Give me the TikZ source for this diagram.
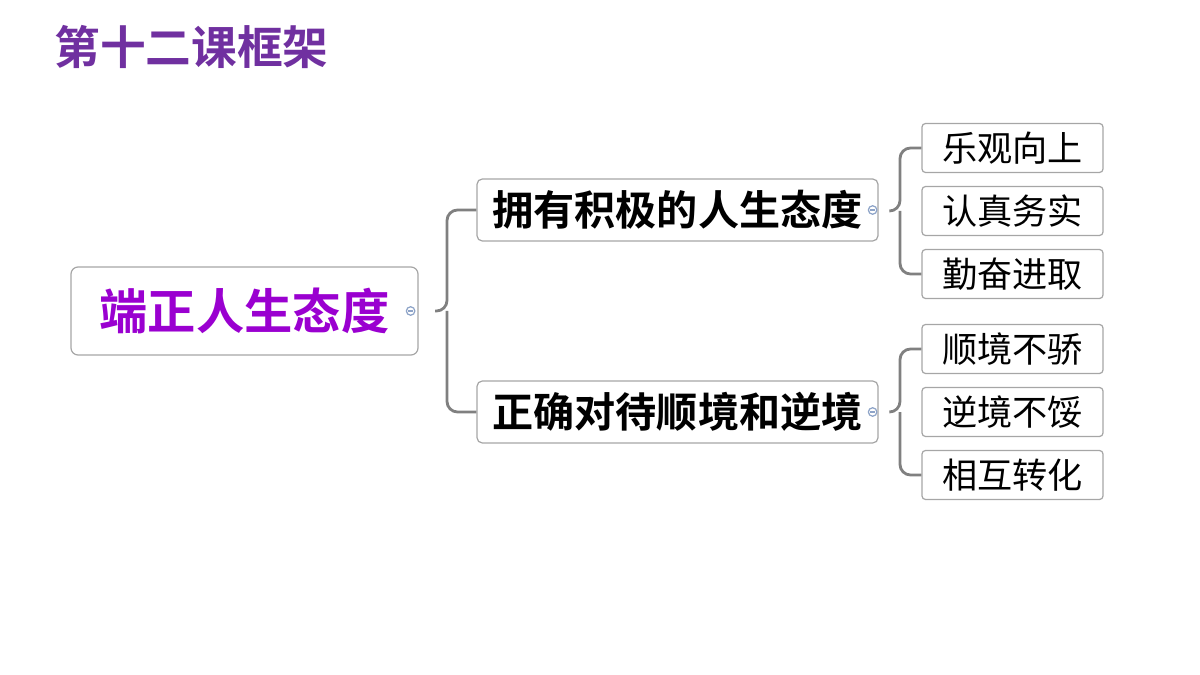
\documentclass[tikz,border=0pt]{standalone}
\usepackage{fontspec}
\setmainfont{Noto Sans CJK SC}
\newfontfamily\cjkbold{Noto Sans CJK SC Bold}
\usetikzlibrary{positioning}
\definecolor{titlepurple}{HTML}{7030A0}
\definecolor{rootpurple}{HTML}{9A00D0}
\definecolor{boxgray}{HTML}{A6A6A6}
\definecolor{knobblue}{HTML}{8EA4C8}
\begin{document}
\begin{tikzpicture}
	[x=0.02cm,y=-0.02cm,line width=0.7pt,
	rootbox/.style = {
		draw=boxgray, rounded corners=4pt, minimum width=347*0.02cm,
		minimum height=88*0.02cm, font=\cjkbold\fontsize{27.5}{28}\selectfont,
		text=rootpurple
	},
	midbox/.style = {
		draw=boxgray, rounded corners=3pt, minimum width=401*0.02cm,
		minimum height=62*0.02cm, font=\cjkbold\fontsize{23.4}{24}\selectfont
	},
	leafbox/.style = {
		draw=boxgray, rounded corners=2pt, minimum width=181*0.02cm,
		minimum height=49*0.02cm, font=\fontsize{20}{20}\selectfont
	},
	brace/.style = {
		draw=gray, line width=1.6pt, rounded corners=6pt
	},
	knob/.style = {
		draw=knobblue, fill=white, circle, inner sep=0pt, minimum size=0.17cm
	}]
	\useasboundingbox (0,0) rectangle (1200,675);

	%Title
	\node[anchor=west, text=titlepurple, font=\cjkbold\fontsize{26}{26}\selectfont]
		at (48,47) (title) {第十二课框架};

	%Draw nodes
	\node[rootbox] at (244.5,311) (root) {端正人生态度};
	\node[midbox] at (677.5,210) (pos) {拥有积极的人生态度};
	\node[midbox] at (677.5,412) (adv) {正确对待顺境和逆境};
	\node[leafbox] at (1012.5,148) (l1) {乐观向上};
	\node[leafbox] at (1012.5,211) (l2) {认真务实};
	\node[leafbox] at (1012.5,274) (l3) {勤奋进取};
	\node[leafbox] at (1012.5,349) (l4) {顺境不骄};
	\node[leafbox] at (1012.5,412) (l5) {逆境不馁};
	\node[leafbox] at (1012.5,475) (l6) {相互转化};

	%Draw braces
	\draw[brace] (pos.west) -- (447,210) -- (447,311) -- (435,311);
	\draw[brace] (adv.west) -- (447,412) -- (447,311);
	\draw[brace] (l1.west) -- (900,148) -- (900,211) -- (890,211);
	\draw[brace] (l3.west) -- (900,274) -- (900,211);
	\draw[brace] (l4.west) -- (900,349) -- (900,412) -- (890,412);
	\draw[brace] (l6.west) -- (900,475) -- (900,412);

	%Knobs
	\node[knob] at ([xshift=-8*0.02cm]root.east) (k0) {};
	\node[knob] at ([xshift=-6*0.02cm]pos.east) (k1) {};
	\node[knob] at ([xshift=-6*0.02cm]adv.east) (k2) {};
	\foreach \k in {k0,k1,k2}
		\draw[knobblue, line width=0.6pt] ([xshift=-1.5pt]\k.center) -- ([xshift=1.5pt]\k.center);
\end{tikzpicture}
\end{document}
